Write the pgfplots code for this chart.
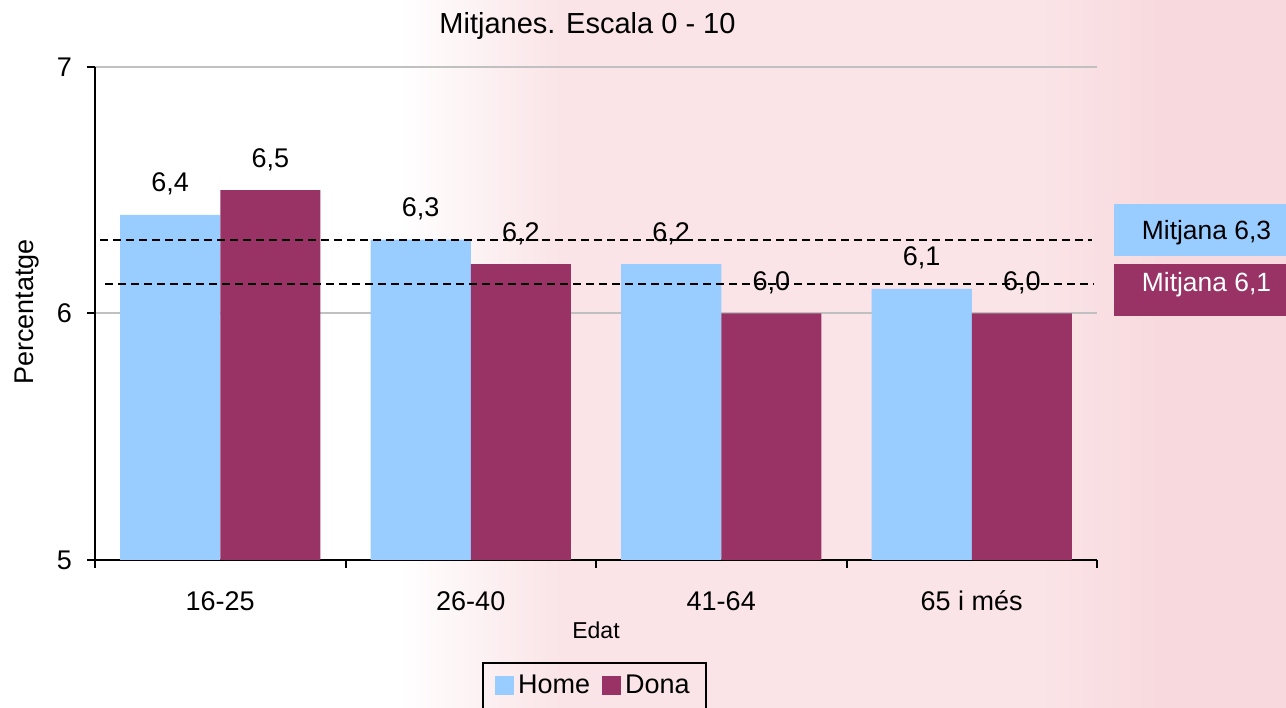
\documentclass[border=0pt]{standalone}
\usepackage{fontspec}
\setmainfont{Liberation Sans}
\usepackage{pgfplots}
\pgfplotsset{compat=1.18}
\definecolor{homeblue}{RGB}{153,204,255}
\definecolor{donared}{RGB}{153,51,102}
\definecolor{gridgray}{RGB}{192,192,192}
\definecolor{wmpink}{RGB}{250,228,231}
\definecolor{wmpink2}{RGB}{248,218,222}

\begin{document}
\begin{tikzpicture}
\path[use as bounding box] (0bp,0bp) rectangle (643bp,354bp);
\shade[left color=white, right color=wmpink] (200bp,0bp) rectangle (280bp,354bp);
\fill[wmpink] (279.5bp,0bp) rectangle (520bp,354bp);
\shade[left color=wmpink, right color=wmpink2] (519.5bp,0bp) rectangle (580bp,354bp);
\fill[wmpink2] (579.5bp,0bp) rectangle (643bp,354bp);
\begin{axis}[
  at={(47.5bp,74bp)}, anchor=south west,
  scale only axis, width=501bp, height=246.5bp,
  ybar, bar width=0.4,
  xmin=-0.5, xmax=3.5, ymin=5, ymax=7,
  ytick={5,6,7},
  xtick={0,1,2,3},
  xticklabels={16-25,26-40,41-64,65 i més},
  minor xtick={-0.5,0.5,1.5,2.5,3.5},
  major x tick style={draw=none},
  tick align=outside,
  major tick length=4bp, minor tick length=4bp,
  axis x line*=bottom, axis y line*=left,
  axis line style={line width=1bp, -},
  tick style={line width=1bp, black},
  ymajorgrids, grid style={gridgray, line width=1bp},
  /pgf/number format/assume math mode=true,
  ticklabel style={font=\fontsize{13.5bp}{16bp}\selectfont},
  xticklabel style={anchor=base, yshift=-21bp},
  yticklabel style={anchor=east, xshift=-4bp},
  title={Mitjanes. Escala 0 - 10},
  title style={font=\fontsize{14.5bp}{17bp}\selectfont, at={(axis description cs:0.4915,1.043)}, anchor=base},
  xlabel={Edat},
  xlabel style={font=\fontsize{11.5bp}{14bp}\selectfont, at={(axis description cs:0.5,-0.1602)}, anchor=base},
  ylabel={Percentatge},
  ylabel style={font=\fontsize{13.5bp}{16bp}\selectfont, at={(axis description cs:-0.0609,0.503)}, anchor=base},
  every node near coord/.append style={font=\fontsize{13.5bp}{16bp}\selectfont, anchor=base, yshift=11.5bp},
  legend columns=2,
  legend style={at={(axis description cs:0.4985,-0.2069)}, anchor=north, draw=black, line width=1bp,
    fill=none, font=\fontsize{13.5bp}{16bp}\selectfont, inner xsep=6bp, inner ysep=4bp,
    /tikz/every even column/.append style={column sep=4bp}},
]
\addplot[fill=homeblue, draw=none, bar shift=-0.2,
  nodes near coords={\pgfmathprintnumber[fixed,fixed zerofill,precision=1,use comma,assume math mode=true]{\pgfplotspointmeta}},
  legend image code/.code={\fill[homeblue] (0bp,-4.75bp) rectangle (9.5bp,4.75bp);}]
  coordinates {(0,6.4) (1,6.3) (2,6.2) (3,6.1)};
\addlegendentry{Home}
\addplot[fill=donared, draw=none, bar shift=0.2,
  nodes near coords={\pgfmathprintnumber[fixed,fixed zerofill,precision=1,use comma,assume math mode=true]{\pgfplotspointmeta}},
  legend image code/.code={\fill[donared] (0bp,-4.75bp) rectangle (9.5bp,4.75bp);}]
  coordinates {(0,6.5) (1,6.2) (2,6.0) (3,6.0)};
\addlegendentry{Dona}
\addplot[sharp plot, forget plot, black, line width=1bp, dash pattern=on 4bp off 2.5bp]
  coordinates {(-0.48,6.30) (3.48,6.30)};
\addplot[sharp plot, forget plot, black, line width=1bp, dash pattern=on 4bp off 2.5bp]
  coordinates {(-0.46,6.12) (3.49,6.12)};
\end{axis}
\fill[homeblue] (557bp,226bp) rectangle (650bp,252bp);
\node[anchor=base, font=\fontsize{13.2bp}{16bp}\selectfont, inner sep=0pt] at (603.25bp,234bp) {Mitjana 6,3};
\fill[donared] (557bp,196bp) rectangle (650bp,222bp);
\node[anchor=base, text=white, font=\fontsize{13.2bp}{16bp}\selectfont, inner sep=0pt] at (603.25bp,208.2bp) {Mitjana 6,1};
\end{tikzpicture}
\end{document}
